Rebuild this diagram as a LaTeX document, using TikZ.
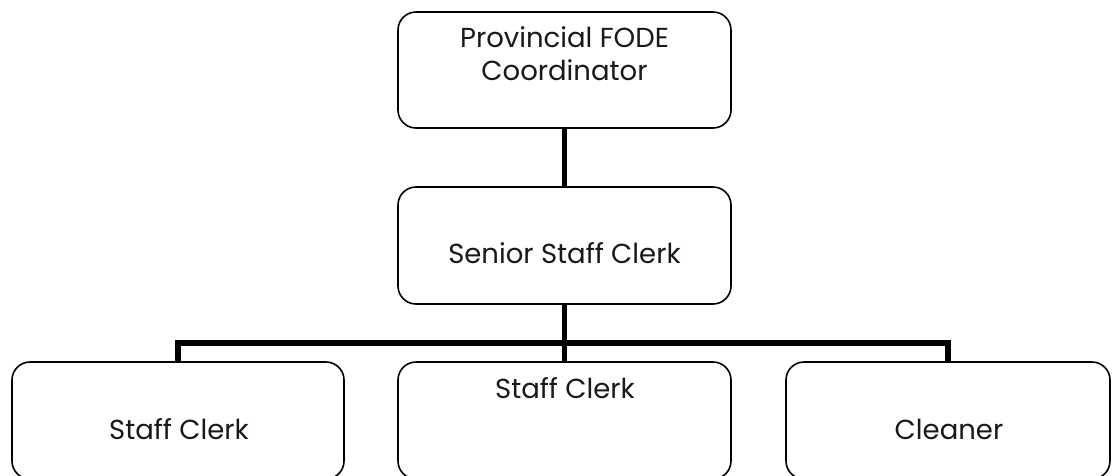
\documentclass[tikz,border=0pt]{standalone}
\usepackage{fontspec}
\setmainfont{Poppins}
\begin{document}
\begin{tikzpicture}[x=1pt,y=-1pt,
  orgbox/.style={draw=black, line width=1.6pt, rounded corners=18pt, fill=white, inner sep=0pt, minimum height=116pt},
  lbl/.style={anchor=base, inner sep=0pt, font=\fontsize{27.5}{33}\selectfont, text=black!90},
  conn/.style={draw=black, line width=5.5pt, line join=miter}]
\clip (0,0) rectangle (1112,475);
\fill[white] (0,0) rectangle (1112,475);
\node[orgbox, minimum width=333pt] (top) at (564.5,70) {};
\node[orgbox, minimum width=333pt, minimum height=117pt] (mid) at (564.5,245.5) {};
\node[orgbox, minimum width=332pt, minimum height=117pt] (bl) at (178,420.5) {};
\node[orgbox, minimum width=333pt, minimum height=117pt] (bm) at (564.5,420.5) {};
\node[orgbox, minimum width=324pt, minimum height=117pt] (br) at (948,420.5) {};
\coordinate (bus) at (564.5,343);
\draw[conn] (top.south) -- (mid.north);
\draw[conn] (mid.south) -- (bm.north);
\draw[conn] (bl.north) -- (bl.north |- bus) -- (br.north |- bus) -- (br.north);
\node[lbl] (t1) at (564.5,47) {Provincial FODE};
\node[lbl] (t2) at (564.5,80) {Coordinator};
\node[lbl] (tm) at (564.5,263) {Senior Staff Clerk};
\node[lbl] (tbl) at (179,439) {Staff Clerk};
\node[lbl] (tbm) at (565,398) {Staff Clerk};
\node[lbl] (tbr) at (949,439) {Cleaner};
\end{tikzpicture}
\end{document}
